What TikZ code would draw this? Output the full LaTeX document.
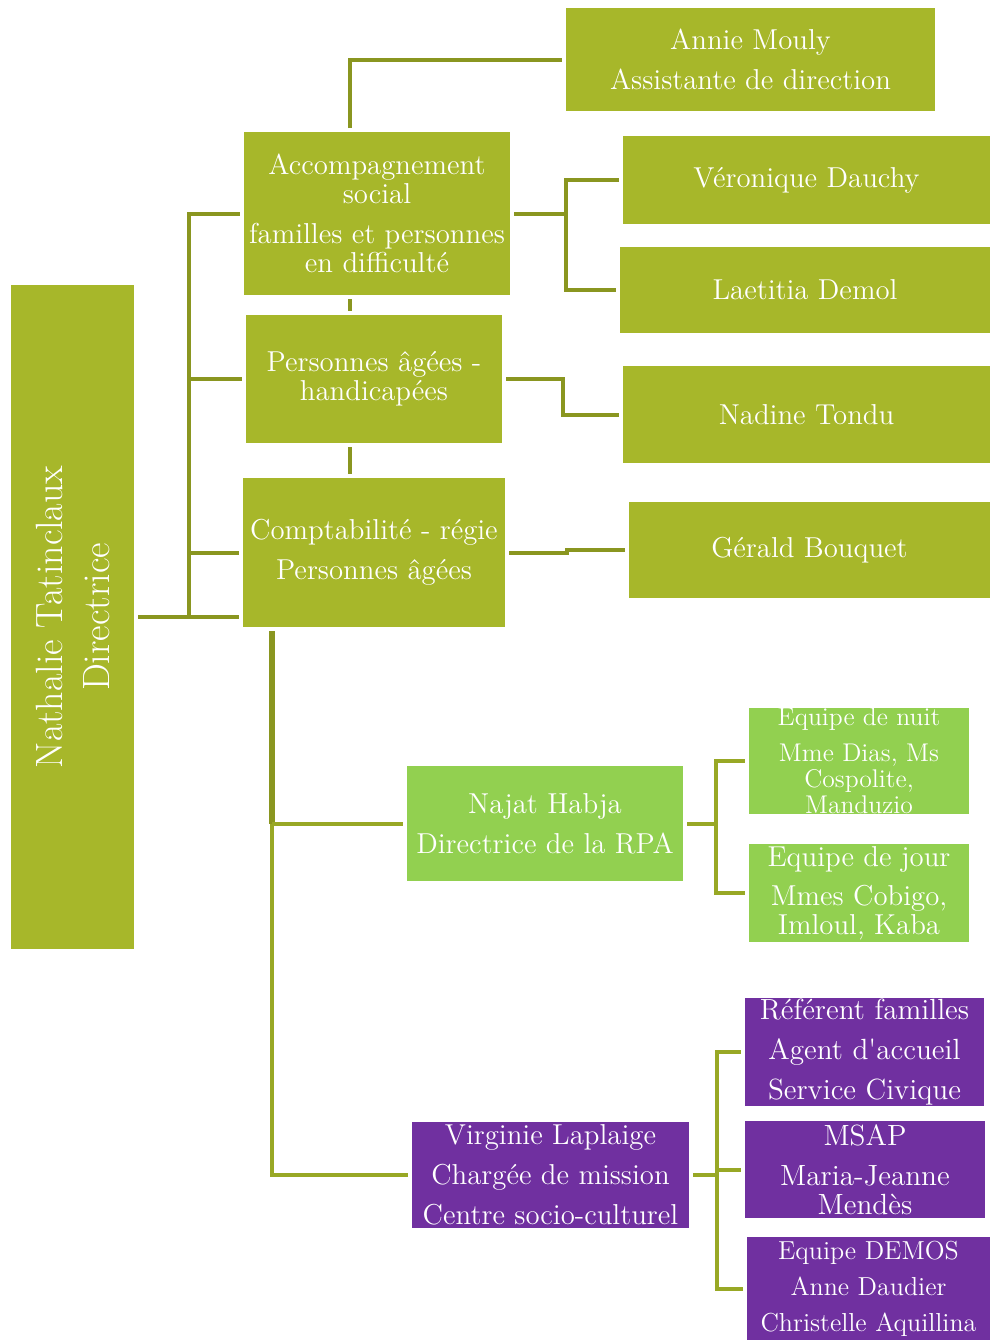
\documentclass[tikz,border=0pt]{standalone}
\usepackage{fontspec}
\definecolor{olivebox}{HTML}{A7B72A}
\definecolor{olivedark}{HTML}{8A9620}
\definecolor{olivelink}{HTML}{98A825}
\definecolor{lightgreen}{HTML}{92D050}
\definecolor{purplebox}{HTML}{7030A0}
\begin{document}
\begin{tikzpicture}[x=0.5pt,y=-0.5pt]
	\tikzstyle{block} = [rectangle,inner sep=0pt,outer sep=2pt,align=center,text=white,font=\fontsize{14.4}{14.5}\selectfont]
	\tikzstyle{link} = [draw=olivedark,line width=2pt]
	\useasboundingbox (0,0) rectangle (990,1340);
	\node[rotate=90,block,fill=olivebox,minimum width=332pt,minimum height=61.5pt,font=\fontsize{19}{23.5}\selectfont](dir)at (72.5,617){Nathalie Tatinclaux\\Directrice};
	\node[block,fill=olivebox,minimum width=184.5pt,minimum height=51.5pt](annie)at (750.5,59.5){Annie Mouly\\[5.5pt]Assistante de direction};
	\node[block,fill=olivebox,minimum width=133pt,minimum height=81.5pt](accomp)at (377,213.5){Accompagnement\\social\\[5.5pt]familles et personnes\\en difficulté};
	\node[block,fill=olivebox,minimum width=128pt,minimum height=64pt](pah)at (374,379){Personnes âgées -\\handicapées};
	\node[block,fill=olivebox,minimum width=131pt,minimum height=74.5pt](compta)at (374,552.5){Comptabilité - régie\\[5.5pt]Personnes âgées};
	\node[block,fill=olivebox,minimum width=183.5pt,minimum height=44pt](vero)at (806.5,180){Véronique Dauchy};
	\node[block,fill=olivebox,minimum width=185pt,minimum height=43pt](laet)at (805,290){Laetitia Demol};
	\node[block,fill=olivebox,minimum width=183.5pt,minimum height=48.5pt](nadine)at (806.5,414.5){Nadine Tondu};
	\node[block,fill=olivebox,minimum width=180.5pt,minimum height=48pt](gerald)at (809.5,550){Gérald Bouquet};
	\node[block,fill=lightgreen,minimum width=138pt,minimum height=57.5pt](najat)at (545,823.5){Najat Habja\\[5.5pt]Directrice de la RPA};
	\node[block,fill=lightgreen,minimum width=110pt,minimum height=52pt,font=\fontsize{12.8}{13}\selectfont](nuit)at (859,761){Equipe de nuit\\[5pt]Mme Dias, Ms\\Cospolite,\\Manduzio};
	\node[block,fill=lightgreen,minimum width=110pt,minimum height=49pt](jour)at (859,893){Equipe de jour\\[5pt]Mmes Cobigo,\\Imloul, Kaba};
	\node[block,fill=purplebox,minimum width=138.5pt,minimum height=53pt](virg)at (550.5,1175){Virginie Laplaige\\[5.5pt]Chargée de mission\\[5.5pt]Centre socio-culturel};
	\node[block,fill=purplebox,minimum width=119.5pt,minimum height=54pt,font=\fontsize{14.6}{14.5}\selectfont](ref)at (864.5,1052){Référent familles\\[5.5pt]Agent d\textquotesingle accueil\\[5.5pt]Service Civique};
	\node[block,fill=purplebox,minimum width=120pt,minimum height=48.5pt,font=\fontsize{14.6}{14.5}\selectfont](msap)at (865,1169.5){MSAP\\[5.5pt]Maria-Jeanne\\Mendès};
	\node[block,fill=purplebox,minimum width=121.5pt,minimum height=51.5pt,font=\fontsize{13}{14.5}\selectfont](demos)at (868.5,1288.5){Equipe DEMOS\\[3.5pt]Anne Daudier\\[3.5pt]Christelle Aquillina};
	\coordinate (trunk)at (189,617);
	\coordinate (spine)at (350,0);
	\coordinate (rpa)at (272,0);
	\coordinate (fork1)at (566,213.5);
	\coordinate (fork2)at (716,823.5);
	\coordinate (fork3)at (717,1175);
	\draw[link] (dir.south) -- (dir.south -| compta.west);
	\draw[link] (trunk) |- (accomp.west);
	\draw[link] (trunk) |- (pah.west);
	\draw[link] (trunk) |- (compta.west);
	\draw[link] (accomp.north -| spine) |- (annie.west);
	\draw[link] (accomp.south -| spine) -- (pah.north -| spine);
	\draw[link] (pah.south -| spine) -- (compta.north -| spine);
	\draw[link] (accomp.east) -- (fork1) |- (vero.west);
	\draw[link] (fork1) |- (laet.west);
	\draw[link] (pah.east) -- ++(57,0) |- (nadine.west);
	\draw[link] (compta.east) -- ++(58,0) |- (gerald.west);
	\draw[link,line width=3pt] (compta.south -| rpa) -- (najat.west -| rpa);
	\draw[link,draw=olivelink] (najat.west -| rpa) -- (najat.west);
	\draw[link,draw=olivelink] (najat.west -| rpa) |- (virg.west);
	\draw[link,draw=olivelink] (najat.east) -- (fork2) |- (nuit.west);
	\draw[link,draw=olivelink] (fork2) |- (jour.west);
	\draw[link,draw=olivelink] (virg.east) -- (fork3) |- (ref.west);
	\draw[link,draw=olivelink] (fork3) |- (msap.west);
	\draw[link,draw=olivelink] (fork3) |- (demos.west);
\end{tikzpicture}
\end{document}
